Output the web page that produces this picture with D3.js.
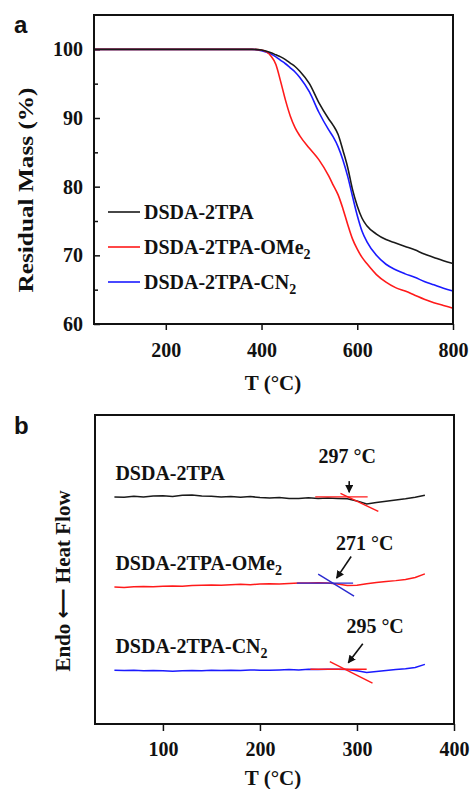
<!DOCTYPE html>
<html>
<head>
<meta charset="utf-8">
<script src="https://cdn.jsdelivr.net/npm/d3@7"></script>
<style>
body { margin: 0; background: #fff; }
svg text { font-family: "Liberation Serif", "Times New Roman", serif; font-weight: bold; fill: #111; }
</style>
</head>
<body>
<svg width="471" height="789"></svg>
<script>
// panel a: TGA, residual mass (%) vs temperature
var tgaTemp = [50, 200, 380, 400, 420, 430, 440, 450, 460, 470, 480, 500, 520, 540, 550, 560, 570, 580, 590, 600, 610, 620, 640, 660, 680, 700, 720, 740, 760, 780, 800];
var massDSDA = [100, 100, 100, 99.9, 99.5, 99.2, 98.9, 98.5, 98.0, 97.5, 96.8, 95.0, 92.2, 89.9, 88.9, 87.6, 85.3, 82.8, 79.6, 77.2, 75.4, 74.3, 73.1, 72.3, 71.8, 71.3, 70.8, 70.2, 69.7, 69.2, 68.8];
var massOMe = [100, 100, 100, 99.9, 99.0, 97.8, 95.3, 92.6, 90.3, 88.6, 87.4, 85.6, 83.9, 81.6, 80.2, 78.8, 76.8, 74.5, 72.4, 70.9, 69.7, 68.8, 67.2, 66.1, 65.3, 64.8, 64.2, 63.6, 63.1, 62.7, 62.3];
var massCN = [100, 100, 100, 99.8, 99.3, 98.9, 98.4, 97.9, 97.3, 96.7, 95.9, 93.8, 90.8, 88.3, 87.2, 85.8, 83.9, 81.5, 78.6, 75.8, 73.5, 72.0, 70.0, 68.7, 67.9, 67.3, 66.8, 66.2, 65.7, 65.2, 64.8];
var tgaTicksX = [200, 400, 600, 800];
var tgaTicksY = [60, 70, 80, 90, 100];
var tgaMinorY = [65, 75, 85, 95];

// panel b: DSC, heat flow (arbitrary units, curves offset) vs temperature
var dscTemp = [50, 60, 70, 80, 90, 100, 110, 120, 130, 140, 150, 160, 170, 180, 190, 200, 210, 220, 230, 240, 250, 260, 270, 280, 290, 300, 310, 320, 330, 340, 350, 360, 370];
var flowDSDA = [73.5, 73.4, 73.7, 73.5, 73.8, 73.9, 73.6, 74.0, 74.1, 73.8, 73.7, 73.5, 73.6, 73.4, 73.6, 73.3, 73.1, 73.3, 73.0, 73.0, 73.2, 73.0, 73.1, 73.0, 72.9, 72.2, 71.2, 71.7, 72.1, 72.5, 72.9, 73.4, 74.0];
var flowOMe = [44.3, 44.2, 44.4, 44.5, 44.4, 44.6, 44.7, 44.6, 44.8, 44.9, 45.0, 44.9, 45.1, 45.2, 45.1, 45.3, 45.4, 45.3, 45.5, 45.6, 45.6, 45.7, 45.6, 45.3, 44.8, 44.9, 45.4, 45.8, 46.1, 46.4, 46.8, 47.4, 48.6];
var flowCN = [17.4, 17.3, 17.4, 17.2, 17.3, 17.2, 17.1, 17.2, 17.3, 17.2, 17.4, 17.3, 17.4, 17.3, 17.5, 17.4, 17.4, 17.5, 17.6, 17.5, 17.7, 17.6, 17.7, 17.7, 17.6, 17.2, 16.7, 17.0, 17.3, 17.6, 17.9, 18.3, 19.3];
var dscTicksX = [100, 200, 300, 400];

var seriesNames = ["DSDA-2TPA", "DSDA-2TPA-OMe", "DSDA-2TPA-CN"];
var seriesSubs = ["", "2", "2"];
var seriesColors = ["#1a1a1a", "#ff1a1a", "#1a1aff"];

// onset construction on the DSC curves: baseline [T1, T2, level], slope [T1, v1, T2, v2]
var onsetBase = [[257, 311, 73.5], [238, 296, 45.6], [252, 310, 17.7]];
var onsetSlope = [[283, 74.6, 322, 68.8], [260, 48.5, 297, 41.4], [272, 20.2, 316, 13.2]];
var onsetColors = ["#ff1a1a", "#2a2ad0", "#ff1a1a"];
var onsetText = ["297 °C", "271 °C", "295 °C"];
var onsetTextAt = [[290, 84.5], [308, 56.3], [318.7, 29.4]];
var onsetArrow = [[292, 78.6, 292, 75.0], [294, 54.2, 279, 47.2], [306, 26.0, 291, 19.8]];

var svg = d3.select("svg");

svg.append("defs").append("marker")
    .attr("id", "head")
    .attr("viewBox", "0 0 10 10")
    .attr("refX", 9).attr("refY", 5)
    .attr("markerWidth", 5).attr("markerHeight", 5)
    .attr("markerUnits", "strokeWidth")
    .attr("orient", "auto")
  .append("path")
    .attr("d", "M0,0L10,5L0,10z")
    .attr("fill", "#111");

function subLabel(sel, i) {
  sel.text(seriesNames[i]);
  if (seriesSubs[i]) {
    sel.append("tspan").attr("dy", 5).attr("font-size", "14px").text(seriesSubs[i]);
  }
}

// ---------- panel a ----------
var xa = d3.scaleLinear().domain([50, 800]).range([94, 453]);
var ya = d3.scaleLinear().domain([60, 105]).range([324, 15]);

var ga = svg.append("g");

ga.append("g")
    .attr("transform", "translate(0,324)")
    .call(d3.axisBottom(xa).tickValues(tgaTicksX).tickSize(6).tickPadding(13))
    .call(function(g) { g.select(".domain").remove(); })
    .call(function(g) {
      g.selectAll("line").attr("stroke", "#111").attr("stroke-width", 1.5);
      g.selectAll("text").attr("font-size", "20px").attr("fill", "#111");
    });

ga.append("g")
    .attr("transform", "translate(94,0)")
    .call(d3.axisLeft(ya).tickValues(tgaTicksY).tickSize(-6).tickPadding(11))
    .call(function(g) { g.select(".domain").remove(); })
    .call(function(g) {
      g.selectAll("line").attr("stroke", "#111").attr("stroke-width", 1.5);
      g.selectAll("text").attr("font-size", "20px").attr("fill", "#111");
    });

ga.append("g")
    .attr("transform", "translate(94,0)")
    .call(d3.axisLeft(ya).tickValues(tgaMinorY).tickSize(-4).tickFormat(""))
    .call(function(g) { g.select(".domain").remove(); })
    .selectAll("line").attr("stroke", "#111").attr("stroke-width", 1.5);

var tgaSeries = [massDSDA, massOMe, massCN];
var lineA = d3.line()
    .x(function(d) { return xa(d[0]); })
    .y(function(d) { return ya(d[1]); })
    .curve(d3.curveMonotoneX);

// draw blue, red, black so black sits on top like the source
[2, 1, 0].forEach(function(i) {
  ga.append("path")
      .datum(d3.zip(tgaTemp, tgaSeries[i]))
      .attr("fill", "none")
      .attr("stroke", seriesColors[i])
      .attr("stroke-width", 1.6)
      .attr("d", lineA);
});

ga.append("rect")
    .attr("x", 94).attr("y", 15)
    .attr("width", 359).attr("height", 309)
    .attr("fill", "none").attr("stroke", "#111").attr("stroke-width", 2);

var legend = ga.append("g").selectAll("g")
    .data(seriesNames)
    .enter().append("g")
      .attr("transform", function(d, i) { return "translate(108," + (212 + i * 35) + ")"; });

legend.append("line")
    .attr("x1", 0).attr("x2", 32)
    .attr("stroke", function(d, i) { return seriesColors[i]; })
    .attr("stroke-width", 1.6);

legend.append("text")
    .attr("x", 36).attr("y", 7)
    .attr("font-size", "20px")
    .each(function(d, i) { subLabel(d3.select(this), i); });

ga.append("text")
    .attr("x", 273).attr("y", 390)
    .attr("text-anchor", "middle")
    .attr("font-size", "21px")
    .text("T (°C)");

ga.append("text")
    .attr("transform", "translate(33,190) rotate(-90)")
    .attr("text-anchor", "middle")
    .attr("font-size", "21px")
    .attr("textLength", 205)
    .attr("lengthAdjust", "spacingAndGlyphs")
    .text("Residual Mass (%)");

svg.append("text")
    .attr("x", 14).attr("y", 33)
    .attr("font-size", "24px")
    .style("font-family", "'Liberation Sans', Arial, sans-serif")
    .text("a");

// ---------- panel b ----------
var xb = d3.scaleLinear().domain([30, 400]).range([95, 454]);
var yb = d3.scaleLinear().domain([0, 100]).range([724, 415]);

var gb = svg.append("g");

gb.append("g")
    .attr("transform", "translate(0,724)")
    .call(d3.axisBottom(xb).tickValues(dscTicksX).tickSize(7).tickPadding(11))
    .call(function(g) { g.select(".domain").remove(); })
    .call(function(g) {
      g.selectAll("line").attr("stroke", "#111").attr("stroke-width", 1.5);
      g.selectAll("text").attr("font-size", "20px").attr("fill", "#111");
    });

var dscSeries = [flowDSDA, flowOMe, flowCN];
var lineB = d3.line()
    .x(function(d) { return xb(d[0]); })
    .y(function(d) { return yb(d[1]); });

dscSeries.forEach(function(s, i) {
  gb.append("path")
      .datum(d3.zip(dscTemp, s))
      .attr("fill", "none")
      .attr("stroke", seriesColors[i])
      .attr("stroke-width", 1.5)
      .attr("d", lineB);

  gb.append("text")
      .attr("x", xb(dscTemp[0]) + 1)
      .attr("y", yb(s[0]) - 17)
      .attr("font-size", "20px")
      .each(function() { subLabel(d3.select(this), i); });
});

onsetBase.forEach(function(b, i) {
  var s = onsetSlope[i];
  gb.append("line")
      .attr("x1", xb(b[0])).attr("x2", xb(b[1]))
      .attr("y1", yb(b[2])).attr("y2", yb(b[2]))
      .attr("stroke", onsetColors[i]).attr("stroke-width", 1.4);
  gb.append("line")
      .attr("x1", xb(s[0])).attr("y1", yb(s[1]))
      .attr("x2", xb(s[2])).attr("y2", yb(s[3]))
      .attr("stroke", onsetColors[i]).attr("stroke-width", 1.4);

  var a = onsetArrow[i];
  gb.append("line")
      .attr("x1", xb(a[0])).attr("y1", yb(a[1]))
      .attr("x2", xb(a[2])).attr("y2", yb(a[3]))
      .attr("stroke", "#111").attr("stroke-width", 1.6)
      .attr("marker-end", "url(#head)");

  gb.append("text")
      .attr("x", xb(onsetTextAt[i][0]))
      .attr("y", yb(onsetTextAt[i][1]))
      .attr("text-anchor", "middle")
      .attr("font-size", "20px")
      .text(onsetText[i]);
});

gb.append("rect")
    .attr("x", 95).attr("y", 415)
    .attr("width", 359).attr("height", 309)
    .attr("fill", "none").attr("stroke", "#111").attr("stroke-width", 2);

gb.append("text")
    .attr("x", 273).attr("y", 785)
    .attr("text-anchor", "middle")
    .attr("font-size", "21px")
    .text("T (°C)");

var yTitle = gb.append("text")
    .attr("transform", "translate(70,581) rotate(-90)")
    .attr("text-anchor", "middle")
    .attr("font-size", "21px");
yTitle.append("tspan").text("Endo ");
yTitle.append("tspan").style("font-family", "'DejaVu Sans', sans-serif").text("\u27F5");
yTitle.append("tspan").text(" Heat Flow");

svg.append("text")
    .attr("x", 14).attr("y", 434)
    .attr("font-size", "24px")
    .style("font-family", "'Liberation Sans', Arial, sans-serif")
    .text("b");
</script>
</body>
</html>
